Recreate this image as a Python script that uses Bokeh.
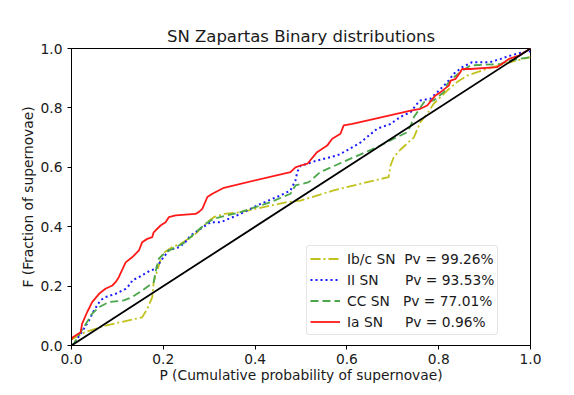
from bokeh.plotting import figure
from bokeh.models import Range1d, FixedTicker, Legend, LegendItem, PrintfTickFormatter
from bokeh.embed import file_html
from bokeh.resources import INLINE

# ---- data ----
ticks = [0.0, 0.2, 0.4, 0.6, 0.8, 1.0]

ibc_x = [0.0, 0.016, 0.03, 0.074, 0.154, 0.165, 0.176, 0.179, 0.187, 0.198, 0.219, 0.237, 0.266,
         0.296, 0.31, 0.332, 0.368, 0.47, 0.499, 0.571, 0.644, 0.691, 0.695, 0.702, 0.717, 0.746,
         0.76, 0.775, 0.789, 0.819, 0.84, 0.862, 0.906, 0.956, 1.0]
ibc_y = [0.02, 0.034, 0.045, 0.067, 0.095, 0.123, 0.163, 0.213, 0.253, 0.309, 0.331, 0.342, 0.37,
         0.415, 0.432, 0.443, 0.449, 0.483, 0.488, 0.522, 0.55, 0.567, 0.606, 0.634, 0.66, 0.701,
         0.752, 0.78, 0.814, 0.859, 0.887, 0.909, 0.932, 0.954, 0.971]

ii_x = [0.0, 0.005, 0.02, 0.038, 0.049, 0.063, 0.074, 0.096, 0.118, 0.129, 0.132, 0.147, 0.172,
        0.183, 0.198, 0.212, 0.234, 0.248, 0.259, 0.27, 0.281, 0.303, 0.325, 0.368, 0.412, 0.455,
        0.477, 0.488, 0.492, 0.499, 0.514, 0.535, 0.579, 0.593, 0.63, 0.666, 0.695, 0.717, 0.739,
        0.753, 0.76, 0.782, 0.797, 0.819, 0.833, 0.851, 0.873, 0.912, 0.935, 0.956, 0.985, 1.0]
ii_y = [0.0, 0.006, 0.039, 0.084, 0.118, 0.152, 0.163, 0.174, 0.191, 0.208, 0.219, 0.23, 0.253,
        0.258, 0.292, 0.32, 0.331, 0.348, 0.37, 0.381, 0.393, 0.415, 0.415, 0.443, 0.477, 0.505,
        0.522, 0.556, 0.585, 0.605, 0.612, 0.623, 0.64, 0.651, 0.684, 0.73, 0.746, 0.77, 0.786,
        0.814, 0.825, 0.831, 0.853, 0.887, 0.915, 0.937, 0.954, 0.954, 0.965, 0.976, 0.988, 0.99]

cc_x = [0.0, 0.005, 0.02, 0.045, 0.06, 0.081, 0.114, 0.132, 0.154, 0.179, 0.183, 0.19, 0.205,
        0.227, 0.248, 0.27, 0.292, 0.31, 0.368, 0.434, 0.477, 0.488, 0.517, 0.542, 0.608, 0.666,
        0.702, 0.731, 0.739, 0.746, 0.768, 0.789, 0.811, 0.819, 0.833, 0.847, 0.869, 0.935,
        0.956, 1.0]
cc_y = [0.0, 0.006, 0.045, 0.107, 0.129, 0.146, 0.152, 0.163, 0.185, 0.213, 0.247, 0.292, 0.314,
        0.331, 0.348, 0.38, 0.41, 0.427, 0.449, 0.483, 0.511, 0.539, 0.55, 0.584, 0.629, 0.668,
        0.696, 0.718, 0.74, 0.769, 0.819, 0.825, 0.853, 0.881, 0.903, 0.92, 0.943, 0.948,
        0.96, 0.971]

ia_x = [0.0, 0.003, 0.02, 0.023, 0.034, 0.045, 0.06, 0.074, 0.089, 0.096, 0.103, 0.118, 0.132,
        0.147, 0.154, 0.165, 0.176, 0.179, 0.194, 0.205, 0.212, 0.227, 0.27, 0.277, 0.285, 0.296,
        0.307, 0.332, 0.477, 0.488, 0.499, 0.514, 0.535, 0.557, 0.568, 0.586, 0.593, 0.612, 0.739,
        0.76, 0.775, 0.793, 0.804, 0.822, 0.826, 0.837, 0.847, 0.851, 0.869, 0.927, 0.953, 0.975,
        0.993, 1.0]
ia_y = [0.02, 0.028, 0.045, 0.073, 0.112, 0.146, 0.174, 0.191, 0.202, 0.213, 0.23, 0.28, 0.297,
        0.32, 0.348, 0.359, 0.365, 0.381, 0.404, 0.415, 0.432, 0.438, 0.443, 0.449, 0.46, 0.5,
        0.511, 0.531, 0.584, 0.6, 0.606, 0.612, 0.651, 0.673, 0.696, 0.713, 0.741, 0.746, 0.791,
        0.797, 0.808, 0.842, 0.853, 0.875, 0.892, 0.898, 0.92, 0.931, 0.931, 0.937, 0.965, 0.976,
        0.993, 1.0]

diag_x = [0.0, 1.0]
diag_y = [0.0, 1.0]

labels = ["Ib/c SN", "II SN", "CC SN", "Ia SN"]
pvalues = ["99.26%", "93.53%", "77.01%", "0.96%"]
pad_spaces = [2, 6, 3, 5]

FONT = "DejaVu Sans"
TXT = "#1a1a1a"

p = figure(width=558, height=390, output_backend="svg", toolbar_location=None,
           x_range=Range1d(0, 1), y_range=Range1d(0, 1),
           title="SN Zapartas Binary distributions",
           min_border_left=71, min_border_right=28, min_border_top=48, min_border_bottom=45)

p.background_fill_color = "white"
p.border_fill_color = "white"
p.outline_line_color = "black"
p.outline_line_width = 1
p.xgrid.visible = False
p.ygrid.visible = False

p.title.align = "center"
p.title.text_font = FONT
p.title.text_font_size = "16.5px"
p.title.text_font_style = "normal"
p.title.text_color = TXT
p.title.standoff = 6

for ax in (p.xaxis[0], p.yaxis[0]):
    ax.ticker = FixedTicker(ticks=ticks)
    ax.formatter = PrintfTickFormatter(format="%.1f")
    ax.minor_tick_line_color = None
    ax.major_tick_in = 0
    ax.major_tick_out = 4
    ax.major_tick_line_color = "black"
    ax.axis_line_color = "black"
    ax.major_label_text_font = FONT
    ax.major_label_text_font_size = "13.8px"
    ax.major_label_text_color = TXT
    ax.axis_label_text_font = FONT
    ax.axis_label_text_font_size = "13.8px"
    ax.axis_label_text_font_style = "normal"
    ax.axis_label_text_color = TXT

p.xaxis.axis_label = "P (Cumulative probability of supernovae)"
p.yaxis.axis_label = "F (Fraction of supernovae)"
p.xaxis.major_label_standoff = 4
p.yaxis.major_label_standoff = 5
p.xaxis.axis_label_standoff = 0
p.yaxis.axis_label_standoff = 2

r_ibc = p.line(ibc_x, ibc_y, line_color="#c2c21f", line_width=1.8, line_dash="10 3 2 3")
r_ii = p.line(ii_x, ii_y, line_color="#1a1aff", line_width=2, line_dash="2 3")
r_cc = p.line(cc_x, cc_y, line_color="#4ca64c", line_width=1.8, line_dash="8 4")
r_ia = p.line(ia_x, ia_y, line_color="#ff1a1a", line_width=1.8)
p.line(diag_x, diag_y, line_color="black", line_width=1.8)

items = []
for lab, pv, n, r in zip(labels, pvalues, pad_spaces, [r_ibc, r_ii, r_cc, r_ia]):
    txt = lab + "\u00a0" * n + "Pv = " + pv
    items.append(LegendItem(label=txt, renderers=[r]))

legend = Legend(items=items, location=(235, 10))
legend.label_text_font = FONT
legend.label_text_font_size = "13.8px"
legend.label_text_color = TXT
legend.glyph_width = 30
legend.glyph_height = 19
legend.label_height = 19
legend.label_standoff = 7
legend.spacing = 2
legend.padding = 3
legend.margin = 0
legend.border_line_color = "#cccccc"
legend.border_line_width = 1
legend.border_radius = 3
legend.background_fill_color = "white"
legend.background_fill_alpha = 1.0
p.add_layout(legend, "center")

open("out.html", "w").write(file_html(p, INLINE))
